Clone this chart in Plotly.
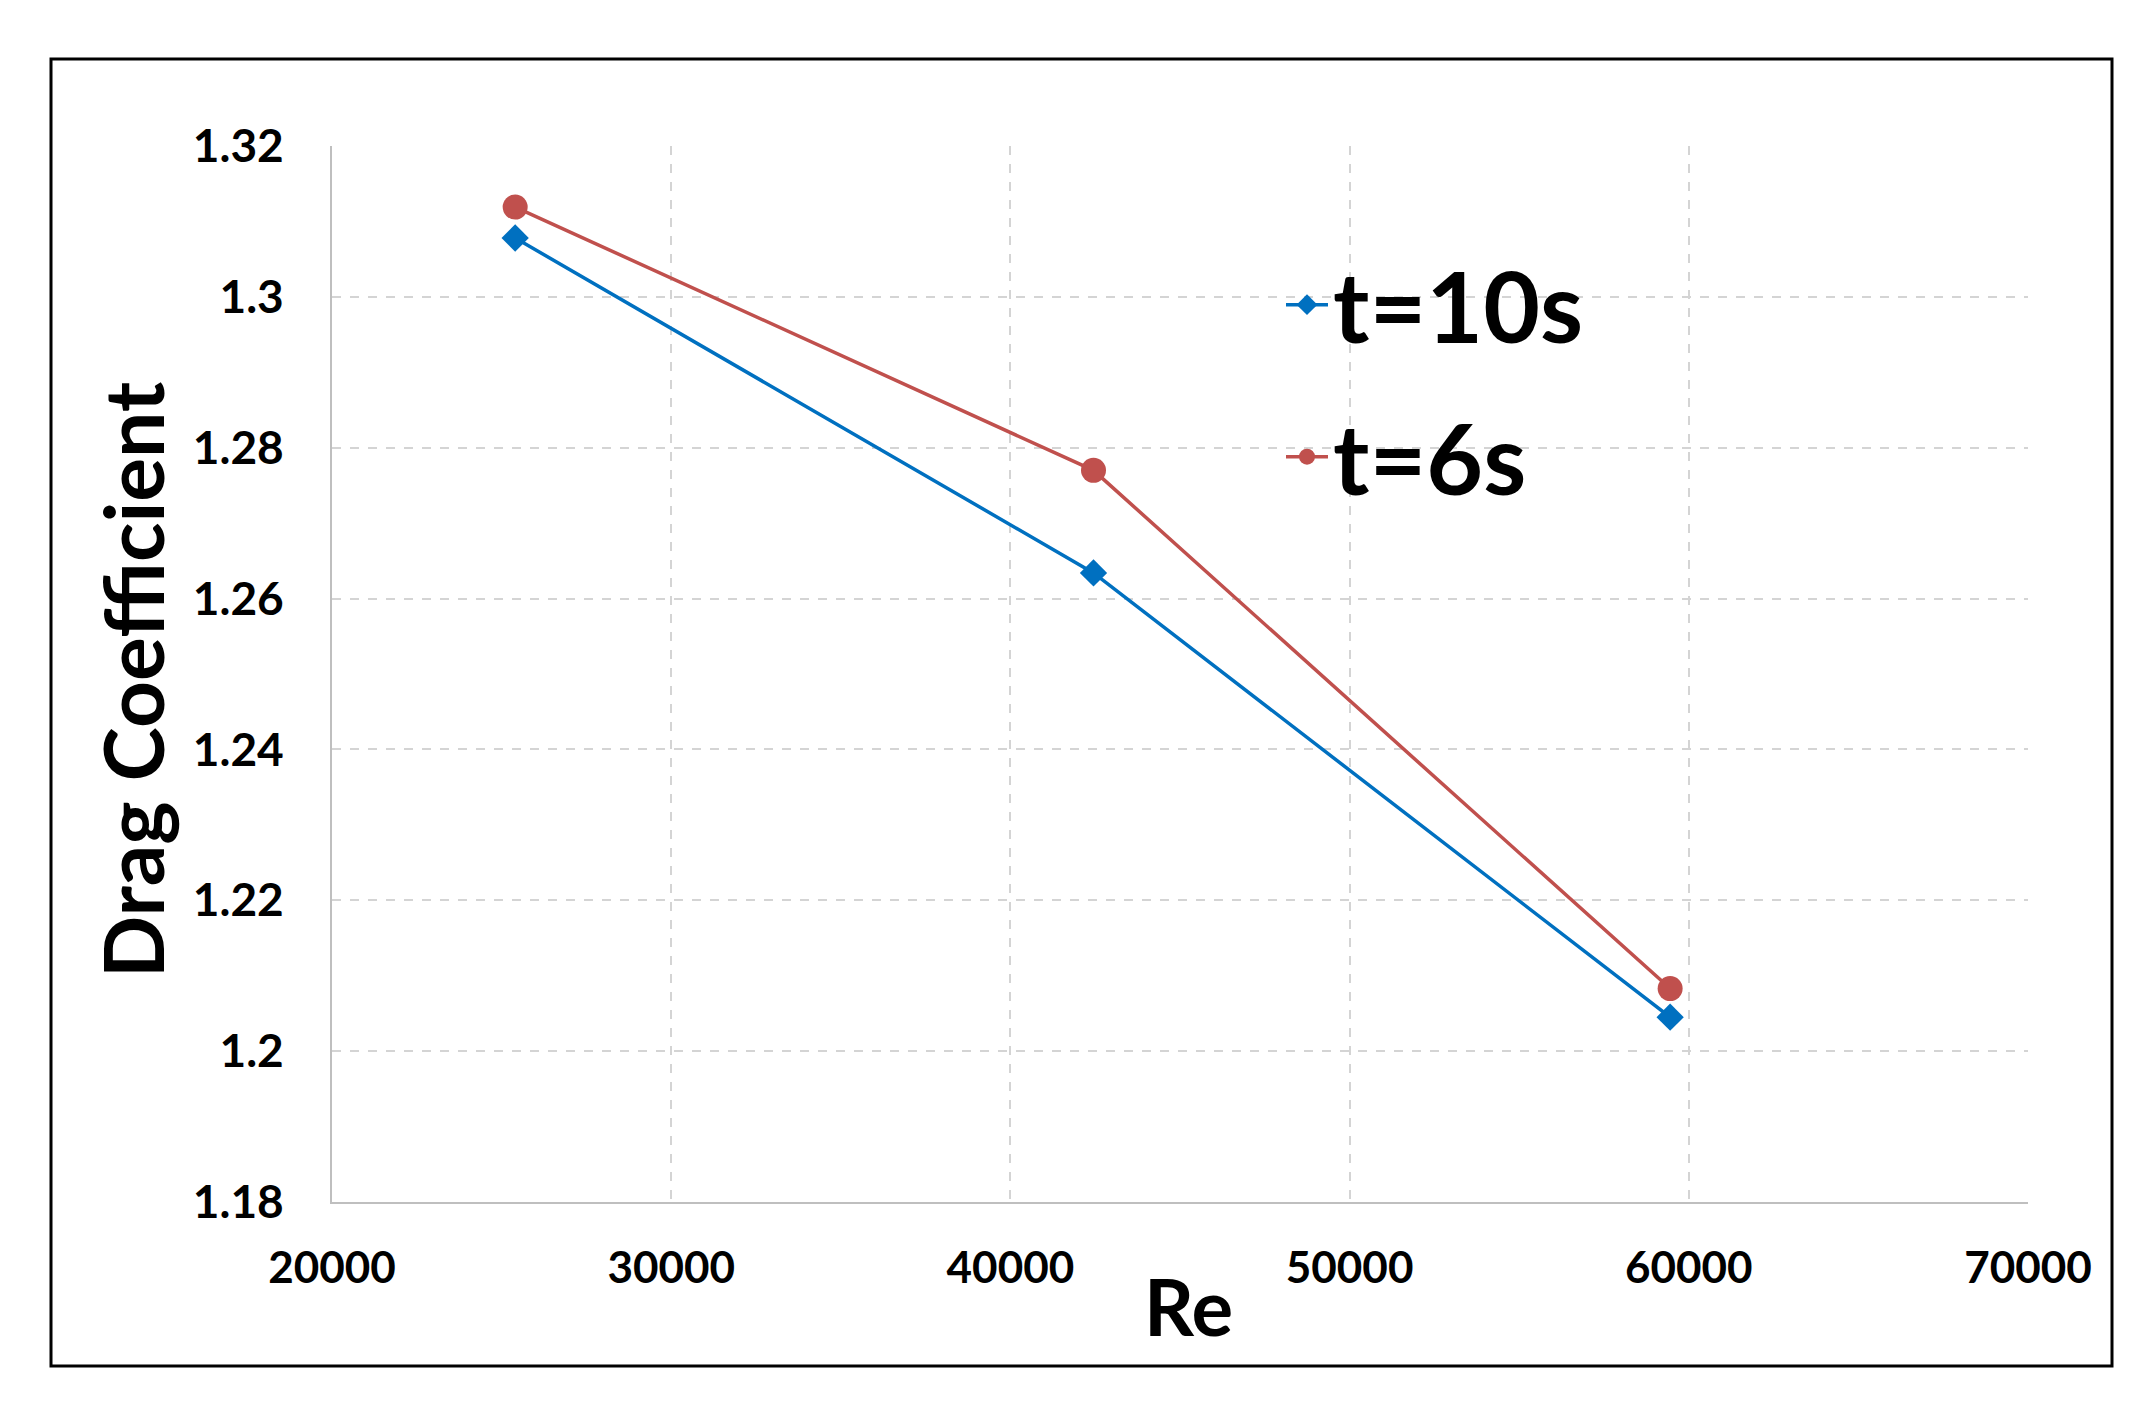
import plotly.graph_objects as go

# ---- data ----
re_values = [25400, 42450, 59450]
cd_t10 = [1.3078, 1.2634, 1.2045]
cd_t6 = [1.3119, 1.2770, 1.2083]
series_names = ["t=10s", "t=6s"]
x_ticks = [20000, 30000, 40000, 50000, 60000, 70000]
y_ticks = [1.18, 1.20, 1.22, 1.24, 1.26, 1.28, 1.30, 1.32]
y_tick_text = ["1.18", "1.2", "1.22", "1.24", "1.26", "1.28", "1.3", "1.32"]

W, H = 2147, 1418
OFF = 8  # page body margin
L, R, T, B = 332, 2028, 146, 1202  # plot area in page pixels


def px(xp):
    return (xp - L) / (R - L)


def py(yp):
    return (B - yp) / (B - T)


FONT = "Lato"
BLUE = "#0070C0"
RED = "#C0504D"

fig = go.Figure()
fig.add_trace(go.Scatter(
    x=re_values, y=cd_t10, mode="lines+markers", name=series_names[0],
    line=dict(color=BLUE, width=3.5),
    marker=dict(symbol="diamond", size=21, color=BLUE),
    legend="legend",
))
fig.add_trace(go.Scatter(
    x=re_values, y=cd_t6, mode="lines+markers", name=series_names[1],
    line=dict(color=RED, width=3.5),
    marker=dict(symbol="circle", size=25, color=RED),
    legend="legend2",
))

grid = dict(showgrid=True, gridcolor="#D4D4D4", gridwidth=1.5, griddash="dash")

fig.update_xaxes(
    range=[20000, 70000], tickvals=x_ticks, ticktext=[str(v) for v in x_ticks],
    showline=True, linecolor="#BFBFBF", linewidth=2, zeroline=False,
    ticks="", ticklabelstandoff=26,
    tickfont=dict(family=FONT, size=44, color="black", weight="bold"),
    **grid,
)
fig.update_yaxes(
    range=[1.18, 1.32], tickvals=y_ticks, ticktext=y_tick_text,
    showline=True, linecolor="#BFBFBF", linewidth=2, zeroline=False,
    ticks="", ticklabelstandoff=37,
    tickfont=dict(family=FONT, size=46, color="black", weight="bold"),
    **grid,
)

legend_font = dict(family=FONT, size=98, color="black", weight="bold")
fig.update_layout(
    width=W - OFF, height=H - OFF,
    margin=dict(l=L - OFF, r=W - R, t=T - OFF, b=H - B, pad=0),
    paper_bgcolor="white", plot_bgcolor="white",
    showlegend=True,
    legend=dict(x=px(1281), y=py(305), xanchor="left", yanchor="middle",
                font=legend_font, bgcolor="rgba(0,0,0,0)", borderwidth=0,
                itemwidth=42),
    legend2=dict(x=px(1281), y=py(457), xanchor="left", yanchor="middle",
                 font=legend_font, bgcolor="rgba(0,0,0,0)", borderwidth=0,
                 itemwidth=42),
    annotations=[
        dict(text="Drag Coefficient", x=px(132), y=py(680), xref="paper", yref="paper",
             textangle=-90, showarrow=False, xanchor="center", yanchor="middle",
             font=dict(family=FONT, size=82, color="black", weight="bold")),
        dict(text="Re", x=px(1188), y=py(1306), xref="paper", yref="paper",
             showarrow=False, xanchor="center", yanchor="middle",
             font=dict(family=FONT, size=78, color="black", weight="bold")),
    ],
    shapes=[
        dict(type="rect", xref="paper", yref="paper",
             x0=px(51), x1=px(2112), y0=py(1366), y1=py(59),
             line=dict(color="black", width=3), fillcolor="rgba(0,0,0,0)", layer="below"),
    ],
)

fig.write_html("out.html")
